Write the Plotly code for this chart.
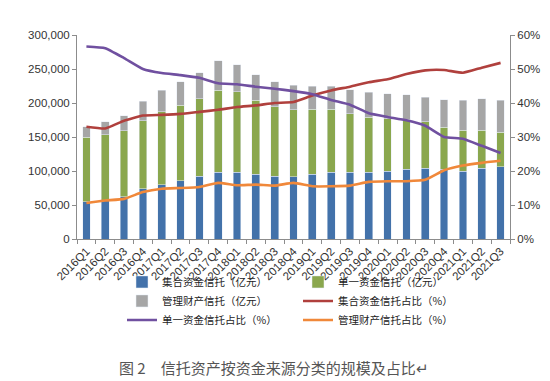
import plotly.graph_objects as go

quarters = ["2016Q1", "2016Q2", "2016Q3", "2016Q4", "2017Q1", "2017Q2", "2017Q3", "2017Q4",
            "2018Q1", "2018Q2", "2018Q3", "2018Q4", "2019Q1", "2019Q2", "2019Q3", "2019Q4",
            "2020Q1", "2020Q2", "2020Q3", "2020Q4", "2021Q1", "2021Q2", "2021Q3"]

# 规模（亿元）
jihe = [54600, 57000, 62000, 73600, 80000, 85800, 92000, 98500, 98500, 95000, 92000, 91200,
        95000, 98500, 98500, 98500, 99500, 102400, 103900, 102400, 99500, 103900, 105900]
danyi = [94700, 96000, 97000, 100400, 107500, 111000, 114000, 120500, 117900, 109200, 102800, 98800,
         96000, 92500, 86000, 80200, 77300, 73900, 68900, 61600, 60100, 55700, 51400]
guanli = [15700, 19800, 22000, 28700, 31500, 34200, 38700, 43300, 40000, 37600, 36700, 36000,
          34000, 34000, 34800, 37200, 36600, 35700, 35800, 40600, 44600, 46400, 46900]

# 占比（%）
jihe_pct = [33.0, 32.5, 34.8, 36.3, 36.5, 36.8, 37.4, 38.0, 38.8, 39.3, 40.0, 40.3,
            42.2, 43.7, 44.8, 46.1, 47.0, 48.5, 49.6, 49.7, 48.9, 50.4, 51.8]
danyi_pct = [56.6, 56.1, 53.2, 50.0, 48.8, 48.2, 47.4, 45.8, 45.5, 44.8, 44.2, 43.5,
             42.6, 40.9, 39.5, 37.0, 35.9, 34.9, 33.3, 30.0, 29.5, 27.4, 25.3]
guanli_pct = [10.6, 11.3, 11.8, 13.8, 14.8, 15.0, 15.3, 16.5, 15.8, 16.0, 15.7, 16.5,
              15.5, 15.5, 15.7, 16.8, 17.0, 17.0, 17.4, 20.2, 21.6, 22.4, 23.0]

left_ticks = [0, 50000, 100000, 150000, 200000, 250000, 300000]
right_ticks = [0, 10, 20, 30, 40, 50, 60]
right_labels = ["0%", "10%", "20%", "30%", "40%", "50%", "60%"]

C_BLUE = "#4372AA"
C_GREEN = "#8AA74E"
C_GRAY = "#A6A6A6"
C_RED = "#B0403D"
C_PURPLE = "#7050A0"
C_ORANGE = "#F0883A"

fig = go.Figure()
fig.add_trace(go.Bar(x=quarters, y=jihe, name="集合资金信托（亿元）", marker_color=C_BLUE, legend="legend"))
fig.add_trace(go.Bar(x=quarters, y=danyi, name="单一资金信托（亿元）", marker_color=C_GREEN, legend="legend2"))
fig.add_trace(go.Bar(x=quarters, y=guanli, name="管理财产信托（亿元）", marker_color=C_GRAY, legend="legend"))
fig.add_trace(go.Scatter(x=quarters, y=jihe_pct, name="集合资金信托占比（%）", yaxis="y2", legend="legend2",
                         mode="lines", line=dict(color=C_RED, width=2.6, shape="spline", smoothing=0.4)))
fig.add_trace(go.Scatter(x=quarters, y=danyi_pct, name="单一资金信托占比（%）", yaxis="y2", legend="legend",
                         mode="lines", line=dict(color=C_PURPLE, width=2.6, shape="spline", smoothing=0.4)))
fig.add_trace(go.Scatter(x=quarters, y=guanli_pct, name="管理财产信托占比（%）", yaxis="y2", legend="legend2",
                         mode="lines", line=dict(color=C_ORANGE, width=2.6, shape="spline", smoothing=0.4)))

axis_color = "#8C8C8C"
tick_font = dict(family="Liberation Sans, Arial, sans-serif", size=11.5, color="#333333")
legend_font = dict(family="Noto Sans CJK SC, sans-serif", size=10.5, color="#222222")

# page body has an 8px margin; positions below are in figure pixels
OFF = 8
PLOT_L, PLOT_R, PLOT_T, PLOT_B = 77 - OFF, 510 - OFF, 35 - OFF, 239.5 - OFF
PW, PH = PLOT_R - PLOT_L, PLOT_B - PLOT_T


def px_x(x):
    return (x - OFF - PLOT_L) / PW


def px_y(y):
    return (PLOT_B - (y - OFF)) / PH


legend_common = dict(
    orientation="v", xanchor="left", yanchor="top",
    font=legend_font, traceorder="normal", tracegroupgap=0,
    bgcolor="rgba(0,0,0,0)", borderwidth=0,
)

fig.update_layout(
    width=550, height=381,
    barmode="stack", bargap=0.59,
    plot_bgcolor="white", paper_bgcolor="white",
    margin=dict(l=PLOT_L, r=550 - PLOT_R, t=PLOT_T, b=381 - PLOT_B, autoexpand=False),
    font=dict(family="Noto Sans CJK SC, sans-serif", size=12, color="#222222"),
    xaxis=dict(
        type="category", tickangle=-45, tickfont=tick_font,
        showline=True, linecolor=axis_color, linewidth=1,
        ticks="outside", ticklen=4, tickcolor=axis_color, tickson="boundaries",
        showgrid=False, zeroline=False,
    ),
    yaxis=dict(
        range=[0, 300000], tickvals=left_ticks, tickformat=",",
        tickfont=tick_font, showline=True, linecolor=axis_color, linewidth=1,
        ticks="outside", ticklen=4, tickcolor=axis_color,
        showgrid=False, zeroline=False,
    ),
    yaxis2=dict(
        range=[0, 60], tickvals=right_ticks, ticktext=right_labels, overlaying="y", side="right",
        tickfont=tick_font, showline=True, linecolor=axis_color, linewidth=1,
        ticks="outside", ticklen=4, tickcolor=axis_color,
        showgrid=False, zeroline=False,
    ),
    legend=dict(x=px_x(122), y=px_y(268), **legend_common),
    legend2=dict(x=px_x(298), y=px_y(268), **legend_common),
    showlegend=True,
    annotations=[
        dict(text="图 2　信托资产按资金来源分类的规模及占比↵", xref="paper", yref="paper",
             x=px_x(274), y=px_y(368), xanchor="center", yanchor="middle",
             showarrow=False,
             font=dict(family="Noto Sans CJK SC, sans-serif", size=15, color="#555555")),
    ],
)

fig.write_html("out.html")
